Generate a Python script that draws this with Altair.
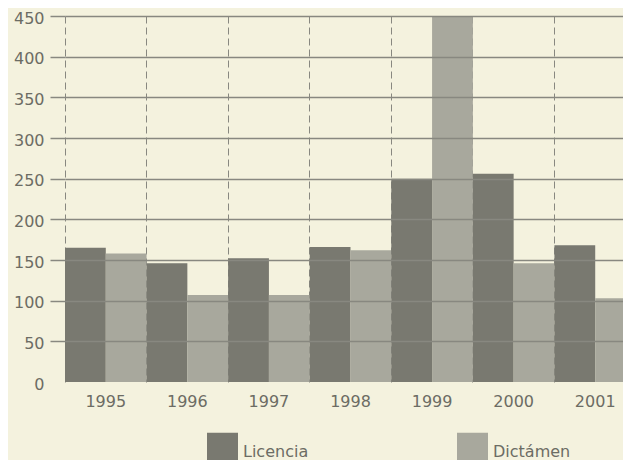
import altair as alt
import pandas as pd

years = ["1995", "1996", "1997", "1998", "1999", "2000", "2001"]
licencia = [165, 146, 152, 166, 250, 256, 168]
dictamen = [158, 107, 107, 162, 449, 146, 103]
series = ["Licencia", "Dictámen"]
colors = ["#797970", "#a8a89d"]
y_ticks = [0, 50, 100, 150, 200, 250, 300, 350, 400, 450]

rows = []
for i, yr in enumerate(years):
    rows.append({"year": yr, "serie": "Licencia", "valor": licencia[i]})
    rows.append({"year": yr, "serie": "Dictámen", "valor": dictamen[i]})
df = pd.DataFrame(rows)

text_color = "#6c6c64"
grid_color = "#888880"
legend_shape = "M-1,-1.23H1V1.23H-1Z"

chart = alt.Chart(df).mark_bar(clip=True).encode(
    x=alt.X(
        "year:N",
        sort=years,
        scale=alt.Scale(paddingInner=0, paddingOuter=0, range=[0, 571]),
        axis=alt.Axis(
            title=None, labelAngle=0, ticks=False, domain=False,
            grid=True, bandPosition=0, gridDash=[7, 4], gridColor=grid_color,
            gridWidth=1, labelPadding=11, labelFontSize=16, labelColor=text_color,
            zindex=0,
        ),
    ),
    xOffset=alt.XOffset("serie:N", sort=series, scale=alt.Scale(domain=series, paddingInner=0, paddingOuter=0)),
    y=alt.Y(
        "valor:Q",
        scale=alt.Scale(domain=[0, 450], nice=False, zero=True),
        axis=alt.Axis(
            title=None, values=y_ticks, domain=False, grid=True,
            gridColor=grid_color, gridWidth=1.5, tickSize=15, tickColor=grid_color,
            tickWidth=1.5, labelPadding=6, labelFontSize=16, labelColor=text_color,
            labelOffset=2, zindex=1,
            gridOpacity={"condition": {"test": "datum.value === 0", "value": 0}, "value": 1},
            tickOpacity={"condition": {"test": "datum.value === 0", "value": 0}, "value": 1},
        ),
    ),
    color=alt.Color(
        "serie:N",
        sort=series,
        scale=alt.Scale(domain=series, range=colors),
        legend=alt.Legend(
            title=None, orient="none", legendX=142, legendY=420,
            direction="horizontal", symbolType=legend_shape, symbolSize=961,
            symbolStrokeWidth=0, labelOffset=5, columnPadding=148,
            labelFontSize=16, labelColor=text_color, padding=0,
        ),
    ),
).properties(
    width=558,
    height=366,
    autosize="none",
    padding={"left": 57, "top": 8, "right": 0, "bottom": 78},
    background="#f4f2de",
).configure(
    font="DejaVu Sans",
).configure_view(
    stroke=None,
)

chart.save("out.html", embed_options={"renderer": "svg", "actions": False})
